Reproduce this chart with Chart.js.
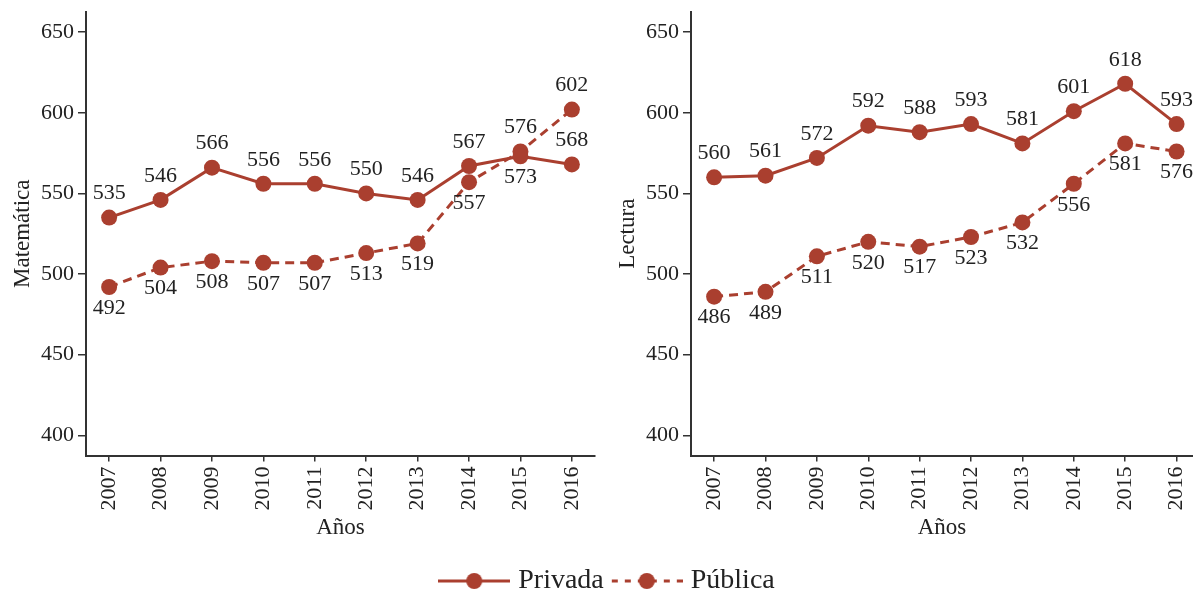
<!DOCTYPE html>
<html>
<head>
<meta charset="utf-8">
<script src="https://cdn.jsdelivr.net/npm/chart.js@4"></script>
<style>
  html, body { margin: 0; padding: 0; background: #fff; overflow: hidden; width: 1193px; height: 590px; }
  canvas { position: absolute; }
  #left { left: 0; top: 0; }
  #right { left: 605px; top: 0; }
  #legend { left: 13px; top: 554px; }
</style>
</head>
<body>
<canvas id="left" width="600" height="550"></canvas>
<canvas id="right" width="588" height="550"></canvas>
<canvas id="legend" width="1193" height="100"></canvas>
<script>
// data
const years = [2007, 2008, 2009, 2010, 2011, 2012, 2013, 2014, 2015, 2016];
const matePrivada = [535, 546, 566, 556, 556, 550, 546, 567, 573, 568];
const matePublica = [492, 504, 508, 507, 507, 513, 519, 557, 576, 602];
const lectPrivada = [560, 561, 572, 592, 588, 593, 581, 601, 618, 593];
const lectPublica = [486, 489, 511, 520, 517, 523, 532, 556, 581, 576];
const yTicks = [400, 450, 500, 550, 600, 650];

// where each value label sits: a = above the point, b = below
const matePrivadaPos = ['a', 'a', 'a', 'a', 'a', 'a', 'a', 'a', 'b', 'a'];
const matePublicaPos = ['b', 'b', 'b', 'b', 'b', 'b', 'b', 'b', 'a', 'a'];
const lectPrivadaPos = ['a', 'a', 'a', 'a', 'a', 'a', 'a', 'a', 'a', 'a'];
const lectPublicaPos = ['b', 'b', 'b', 'b', 'b', 'b', 'b', 'b', 'b', 'b'];

const red = '#AA3F2F';
const ink = '#222222';
const axisCol = '#333333';
const serif = 'Liberation Serif';

// draws the number next to every point
const pointLabels = {
    id: 'pointLabels',
    afterDatasetsDraw(chart) {
        let ctx = chart.ctx;
        ctx.save();
        ctx.font = '22px "' + serif + '"';
        ctx.fillStyle = ink;
        ctx.textAlign = 'center';
        ctx.textBaseline = 'middle';
        chart.data.datasets.forEach((ds, i) => {
            let meta = chart.getDatasetMeta(i);
            meta.data.forEach((pt, j) => {
                let dy = ds.labelPos[j] === 'a' ? -24 : 21;
                ctx.fillText(String(ds.data[j].y), pt.x, pt.y + dy);
            });
        });
        ctx.restore();
    }
};

function series(values) {
    return values.map((v, i) => ({ x: years[i], y: v }));
}

function makePanel(id, yTitle, priv, pub, privPos, pubPos, xMax, padRight) {
    let ctx = document.getElementById(id).getContext('2d');
    return new Chart(ctx, {
        type: 'line',
        data: {
            datasets: [{
                label: 'Privada',
                data: series(priv),
                labelPos: privPos,
                borderColor: red,
                backgroundColor: red,
                borderWidth: 3,
                pointRadius: 8,
                pointBorderWidth: 0,
                pointBackgroundColor: red,
                tension: 0
            }, {
                label: 'Pública',
                data: series(pub),
                labelPos: pubPos,
                borderColor: red,
                backgroundColor: red,
                borderWidth: 3,
                borderDash: [9, 6],
                pointRadius: 8,
                pointBorderWidth: 0,
                pointBackgroundColor: red,
                tension: 0
            }]
        },
        options: {
            responsive: false,
            animation: false,
            clip: false,
            layout: { autoPadding: false, padding: { top: 12, left: 0, right: padRight, bottom: 0 } },
            scales: {
                x: {
                    type: 'linear',
                    min: 2006.55,
                    max: xMax,
                    afterBuildTicks: s => { s.ticks = years.map(v => ({ value: v })); },
                    afterFit: s => {
                        s.height = 94.5;
                        s.paddingLeft = 0;
                        s.paddingRight = 0;
                    },
                    ticks: {
                        autoSkip: false,
                        minRotation: 90,
                        maxRotation: 90,
                        padding: 5,
                        color: ink,
                        font: { family: serif, size: 22 },
                        callback: v => String(v)
                    },
                    grid: { drawOnChartArea: false, tickLength: 6, color: axisCol, lineWidth: 1.5 },
                    border: { color: axisCol, width: 2 },
                    title: {
                        display: true,
                        text: 'Años',
                        color: ink,
                        font: { family: serif, size: 23 },
                        padding: { top: 4, bottom: 8 }
                    }
                },
                y: {
                    min: 387.5,
                    max: 662.5,
                    afterBuildTicks: s => { s.ticks = yTicks.map(v => ({ value: v })); },
                    afterFit: s => {
                        s.width = 86;
                        s.paddingTop = 0;
                        s.paddingBottom = 0;
                    },
                    ticks: {
                        padding: 4,
                        color: ink,
                        font: { family: serif, size: 22 }
                    },
                    grid: { drawOnChartArea: false, tickLength: 8, color: axisCol, lineWidth: 1.5 },
                    border: { color: axisCol, width: 2 },
                    title: {
                        display: true,
                        text: yTitle,
                        color: ink,
                        font: { family: serif, size: 23 },
                        padding: { top: 9, bottom: 0 }
                    }
                }
            },
            plugins: {
                legend: { display: false },
                tooltip: { enabled: false }
            }
        },
        plugins: [pointLabels]
    });
}

// little line+dot picture used as legend key
function legendKey(dashed) {
    let c = document.createElement('canvas');
    c.width = 72;
    c.height = 20;
    let g = c.getContext('2d');
    g.strokeStyle = red;
    g.lineWidth = 3;
    if (dashed) g.setLineDash([6, 7]);
    g.beginPath();
    g.moveTo(dashed ? 1 : 0, 10);
    g.lineTo(72, 10);
    g.stroke();
    g.fillStyle = red;
    g.beginPath();
    g.arc(36, 10, 8, 0, Math.PI * 2);
    g.fill();
    return c;
}

function setupLegend() {
    let ctx = document.getElementById('legend').getContext('2d');
    let keys = [legendKey(false), legendKey(true)];
    new Chart(ctx, {
        type: 'line',
        data: {
            datasets: [
                { label: 'Privada', data: [] },
                { label: 'Pública', data: [] }
            ]
        },
        options: {
            responsive: false,
            animation: false,
            layout: { padding: 0 },
            scales: { x: { display: false }, y: { display: false } },
            plugins: {
                tooltip: { enabled: false },
                legend: {
                    display: true,
                    position: 'top',
                    onClick: null,
                    labels: {
                        usePointStyle: true,
                        pointStyleWidth: 60,
                        padding: 13,
                        color: ink,
                        font: { family: serif, size: 28 },
                        generateLabels: chart => chart.data.datasets.map((ds, i) => ({
                            text: ds.label,
                            pointStyle: keys[i],
                            fillStyle: red,
                            strokeStyle: red,
                            lineWidth: 0,
                            fontColor: ink,
                            hidden: false,
                            datasetIndex: i
                        }))
                    }
                }
            }
        }
    });
}

makePanel('left', 'Matemática', matePrivada, matePublica, matePrivadaPos, matePublicaPos, 2016.45, 5);
makePanel('right', 'Lectura', lectPrivada, lectPublica, lectPrivadaPos, lectPublicaPos, 2016.32, 0);
setupLegend();
</script>
</body>
</html>
